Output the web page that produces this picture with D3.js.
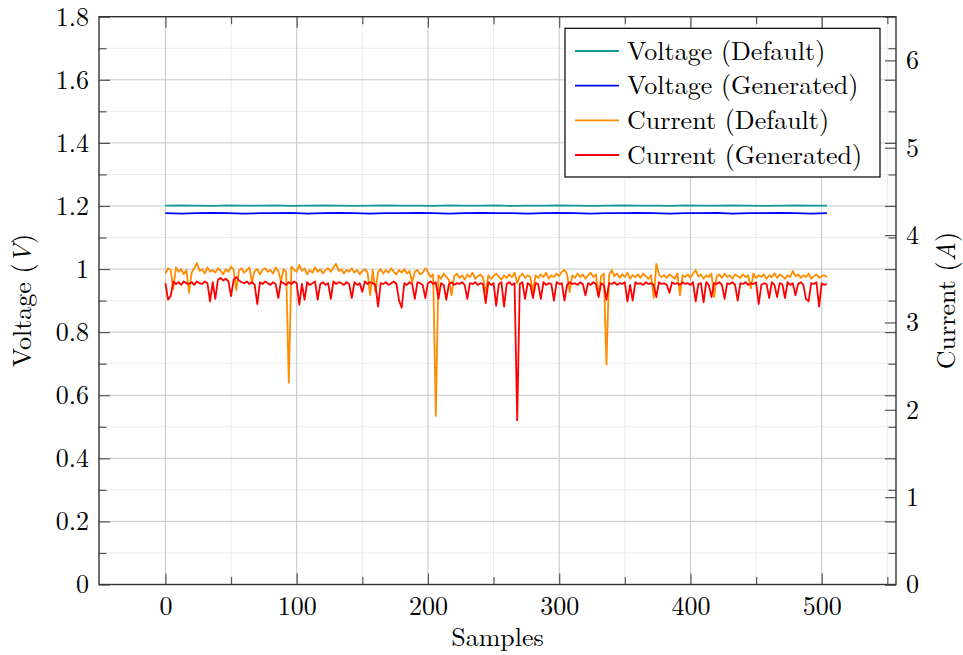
<!DOCTYPE html>
<html>
<head>
<meta charset="utf-8">
<script src="https://cdn.jsdelivr.net/npm/d3@7"></script>
<style>
  html, body { margin: 0; padding: 0; background: #fff; }
  svg { display: block; }
</style>
</head>
<body>
<svg id="chart" width="963" height="655"></svg>
<script>
// ---------------- data ----------------
const voltageStep = 12;   // samples between voltage readings
const currentStep = 2;    // samples between current readings

const voltageDefault = [1.201,1.202,1.201,1.200,1.202,1.201,1.201,1.202,1.200,1.201,
  1.202,1.201,1.200,1.201,1.202,1.201,1.201,1.200,1.202,1.201,
  1.201,1.202,1.200,1.201,1.201,1.202,1.201,1.200,1.201,1.202,
  1.201,1.201,1.200,1.202,1.201,1.201,1.202,1.201,1.200,1.201,
  1.202,1.201,1.201];
const voltageGenerated = [1.177,1.176,1.177,1.178,1.177,1.176,1.177,1.177,1.178,1.176,
  1.177,1.178,1.177,1.176,1.177,1.177,1.178,1.177,1.176,1.177,
  1.178,1.177,1.177,1.176,1.177,1.178,1.177,1.176,1.177,1.177,
  1.178,1.177,1.176,1.177,1.177,1.178,1.176,1.177,1.177,1.178,
  1.177,1.176,1.177];

const currentDefault = [
  3.56,3.62,3.60,3.38,3.63,3.58,3.61,3.55,3.60,3.34,
  3.57,3.62,3.68,3.59,3.61,3.56,3.63,3.58,3.60,3.57,
  3.62,3.59,3.55,3.61,3.58,3.64,3.60,3.37,3.59,3.62,
  3.57,3.60,3.63,3.46,3.59,3.61,3.55,3.60,3.62,3.58,
  3.60,3.56,3.63,3.59,3.47,3.61,3.58,2.31,3.64,3.60,
  3.58,3.66,3.59,3.62,3.55,3.60,3.57,3.63,3.58,3.61,
  3.56,3.60,3.62,3.58,3.63,3.67,3.59,3.61,3.56,3.60,
  3.58,3.62,3.57,3.60,3.55,3.59,3.61,3.57,3.31,3.60,
  3.35,3.58,3.61,3.56,3.60,3.57,3.62,3.58,3.55,3.60,
  3.57,3.61,3.56,3.59,3.46,3.58,3.60,3.55,3.57,3.62,
  3.58,3.52,3.55,1.93,3.54,3.50,3.56,3.52,3.49,3.31,
  3.53,3.56,3.51,3.54,3.49,3.55,3.52,3.57,3.50,3.53,
  3.55,3.51,3.34,3.54,3.50,3.53,3.56,3.52,3.49,3.54,
  3.51,3.55,3.52,3.57,3.45,3.53,3.56,3.51,3.54,3.52,
  3.35,3.54,3.51,3.55,3.52,3.57,3.50,3.54,3.52,3.56,
  3.53,3.58,3.60,3.55,3.35,3.54,3.51,3.56,3.52,3.55,
  3.50,3.54,3.57,3.52,3.55,3.31,3.53,3.56,2.52,3.54,
  3.60,3.53,3.56,3.51,3.55,3.52,3.57,3.50,3.54,3.52,
  3.55,3.51,3.56,3.53,3.50,3.54,3.28,3.67,3.55,3.52,
  3.54,3.51,3.55,3.53,3.50,3.56,3.31,3.54,3.52,3.55,
  3.51,3.56,3.60,3.53,3.55,3.50,3.54,3.52,3.56,3.29,
  3.53,3.55,3.51,3.56,3.52,3.54,3.50,3.55,3.53,3.51,
  3.55,3.52,3.54,3.39,3.56,3.51,3.54,3.52,3.55,3.50,
  3.54,3.52,3.56,3.51,3.55,3.53,3.50,3.54,3.52,3.59,
  3.53,3.55,3.51,3.54,3.52,3.56,3.50,3.53,3.55,3.51,
  3.53,3.54,3.52];

const currentGenerated = [
  3.45,3.26,3.30,3.47,3.44,3.46,3.43,3.47,3.45,3.44,
  3.46,3.43,3.47,3.45,3.44,3.47,3.45,3.24,3.46,3.27,
  3.49,3.51,3.48,3.50,3.47,3.30,3.49,3.52,3.48,3.46,
  3.45,3.47,3.44,3.46,3.43,3.21,3.46,3.44,3.47,3.45,
  3.43,3.46,3.44,3.28,3.47,3.45,3.43,3.46,3.44,3.47,
  3.45,3.20,3.44,3.26,3.46,3.43,3.45,3.47,3.26,3.44,
  3.46,3.43,3.45,3.27,3.47,3.44,3.46,3.45,3.43,3.46,
  3.44,3.28,3.46,3.43,3.45,3.35,3.47,3.44,3.46,3.45,
  3.43,3.18,3.45,3.44,3.46,3.43,3.45,3.47,3.44,3.25,
  3.17,3.45,3.43,3.46,3.44,3.27,3.46,3.45,3.43,3.28,
  3.45,3.47,3.44,3.46,3.27,3.45,3.43,3.26,3.44,3.46,
  3.43,3.45,3.44,3.46,3.43,3.27,3.45,3.44,3.46,3.43,
  3.45,3.44,3.22,3.46,3.43,3.45,3.19,3.44,3.46,3.18,
  3.44,3.46,3.43,3.45,1.88,3.44,3.46,3.27,3.45,3.43,
  3.28,3.45,3.44,3.27,3.46,3.43,3.45,3.44,3.25,3.46,
  3.44,3.45,3.25,3.43,3.46,3.44,3.45,3.43,3.46,3.44,
  3.31,3.45,3.43,3.46,3.44,3.29,3.45,3.43,3.26,3.45,
  3.44,3.46,3.43,3.45,3.44,3.46,3.24,3.43,3.25,3.46,
  3.44,3.45,3.43,3.46,3.44,3.45,3.43,3.29,3.46,3.44,
  3.45,3.43,3.34,3.46,3.44,3.45,3.43,3.46,3.44,3.45,
  3.43,3.46,3.24,3.44,3.45,3.23,3.46,3.43,3.29,3.45,
  3.44,3.46,3.43,3.27,3.45,3.44,3.46,3.43,3.25,3.45,
  3.44,3.46,3.43,3.45,3.44,3.46,3.21,3.43,3.45,3.44,
  3.28,3.46,3.43,3.29,3.45,3.44,3.28,3.46,3.43,3.45,
  3.31,3.44,3.46,3.43,3.27,3.24,3.45,3.44,3.46,3.18,
  3.45,3.43,3.44];

const xTicks = [0, 100, 200, 300, 400, 500];
const xMinorTicks = [50, 150, 250, 350, 450, 550];
const voltageTicks = [0, 0.2, 0.4, 0.6, 0.8, 1, 1.2, 1.4, 1.6, 1.8];
const voltageMinorTicks = [0.1, 0.3, 0.5, 0.7, 0.9, 1.1, 1.3, 1.5, 1.7];
const currentTicks = [0, 1, 2, 3, 4, 5, 6];
const seriesNames = ["Voltage (Default)", "Voltage (Generated)", "Current (Default)", "Current (Generated)"];
const seriesColors = ["#159a96", "#0000ff", "#ff8c00", "#ff0000"];

// ---------------- layout ----------------
const FONT = '"Latin Modern Roman", "CMU Serif", "Liberation Serif", serif';
const FS = "26px";
const L = 99, R = 896, T = 16.7, B = 584.5;
const svg = d3.select("#chart");

const x = d3.scaleLinear().domain([-50.6, 556.6]).range([L, R]);
const yV = d3.scaleLinear().domain([0, 1.8]).range([B, T]);
const yA = d3.scaleLinear().domain([0, 6.5]).range([B, T]);

// grid
const grid = svg.append("g");
grid.selectAll(".gxm").data(xMinorTicks).join("line")
  .attr("x1", d => x(d)).attr("x2", d => x(d)).attr("y1", T).attr("y2", B)
  .attr("stroke", "#ebebeb").attr("stroke-width", 1);
grid.selectAll(".gym").data(voltageMinorTicks).join("line")
  .attr("x1", L).attr("x2", R).attr("y1", d => yV(d)).attr("y2", d => yV(d))
  .attr("stroke", "#ebebeb").attr("stroke-width", 1);
grid.selectAll(".gx").data(xTicks).join("line")
  .attr("x1", d => x(d)).attr("x2", d => x(d)).attr("y1", T).attr("y2", B)
  .attr("stroke", "#c6c6c6").attr("stroke-width", 1);
grid.selectAll(".gy").data(voltageTicks).join("line")
  .attr("x1", L).attr("x2", R).attr("y1", d => yV(d)).attr("y2", d => yV(d))
  .attr("stroke", "#c6c6c6").attr("stroke-width", 1);

// series
svg.append("clipPath").attr("id", "plotclip")
  .append("rect").attr("x", L).attr("y", T).attr("width", R - L).attr("height", B - T);
const plot = svg.append("g").attr("clip-path", "url(#plotclip)");

function addLine(values, step, yScale, color) {
  const pts = values.map((v, i) => [i * step, v]);
  const line = d3.line().x(d => x(d[0])).y(d => yScale(d[1]));
  plot.append("path").datum(pts).attr("d", line)
    .attr("fill", "none").attr("stroke", color)
    .attr("stroke-width", 1.8).attr("stroke-linejoin", "round");
}
addLine(voltageDefault, voltageStep, yV, seriesColors[0]);
addLine(voltageGenerated, voltageStep, yV, seriesColors[1]);
addLine(currentDefault, currentStep, yA, seriesColors[2]);
addLine(currentGenerated, currentStep, yA, seriesColors[3]);

// axes (ticks inward)
function styleAxis(g, withLabels) {
  g.select(".domain").remove();
  g.selectAll(".tick line").attr("stroke", "#555").attr("stroke-width", 1.2);
  if (!withLabels) { g.selectAll("text").remove(); return; }
  g.selectAll("text").style("font-family", FONT).style("font-size", FS).style("fill", "#000");
}
const fmt = d => String(d);

svg.append("g").attr("transform", `translate(0,${B})`)
  .call(d3.axisBottom(x).tickValues(xTicks).tickSize(-11).tickPadding(12).tickFormat(fmt))
  .call(g => styleAxis(g, true));
svg.append("g").attr("transform", `translate(0,${B})`)
  .call(d3.axisBottom(x).tickValues(xMinorTicks).tickSize(-7.5).tickFormat(""))
  .call(g => styleAxis(g, false));
svg.append("g").attr("transform", `translate(0,${T})`)
  .call(d3.axisTop(x).tickValues(xTicks).tickSize(-11).tickFormat(""))
  .call(g => styleAxis(g, false));
svg.append("g").attr("transform", `translate(0,${T})`)
  .call(d3.axisTop(x).tickValues(xMinorTicks).tickSize(-7.5).tickFormat(""))
  .call(g => styleAxis(g, false));

svg.append("g").attr("transform", `translate(${L},0)`)
  .call(d3.axisLeft(yV).tickValues(voltageTicks).tickSize(-11).tickPadding(10).tickFormat(fmt))
  .call(g => styleAxis(g, true));
svg.append("g").attr("transform", `translate(${L},0)`)
  .call(d3.axisLeft(yV).tickValues(voltageMinorTicks).tickSize(-7.5).tickFormat(""))
  .call(g => styleAxis(g, false));
svg.append("g").attr("transform", `translate(${R},0)`)
  .call(d3.axisRight(yV).tickValues(voltageTicks).tickSize(-11).tickFormat(""))
  .call(g => styleAxis(g, false));
svg.append("g").attr("transform", `translate(${R},0)`)
  .call(d3.axisRight(yV).tickValues(voltageMinorTicks).tickSize(-7.5).tickFormat(""))
  .call(g => styleAxis(g, false));
svg.append("g").attr("transform", `translate(${R},0)`)
  .call(d3.axisRight(yA).tickValues(currentTicks).tickSize(-11).tickPadding(10).tickFormat(fmt))
  .call(g => styleAxis(g, true));

// frame
svg.append("rect").attr("x", L).attr("y", T).attr("width", R - L).attr("height", B - T)
  .attr("fill", "none").attr("stroke", "#333").attr("stroke-width", 1.4);

// axis titles
function titleText(sel) {
  return sel.style("font-family", FONT).style("font-size", FS).style("fill", "#000")
    .attr("text-anchor", "middle");
}
svg.append("text").attr("x", (L + R) / 2).attr("y", 646).call(titleText).text("Samples");

const vt = svg.append("text")
  .attr("transform", `translate(31,${(T + B) / 2}) rotate(-90)`).call(titleText);
vt.append("tspan").text("Voltage (");
vt.append("tspan").style("font-style", "italic").text("V");
vt.append("tspan").text(")");

const at = svg.append("text")
  .attr("transform", `translate(955,${(T + B) / 2}) rotate(-90)`).call(titleText);
at.append("tspan").text("Current (");
at.append("tspan").style("font-style", "italic").text("A");
at.append("tspan").text(")");

// legend
const lg = svg.append("g");
lg.append("rect").attr("x", 565).attr("y", 28.3).attr("width", 315).attr("height", 148.7)
  .attr("fill", "#fff").attr("stroke", "#000").attr("stroke-width", 1.2);
const rowY = d3.scalePoint().domain(seriesNames).range([51, 155]);
seriesNames.forEach((name, i) => {
  lg.append("line").attr("x1", 575).attr("x2", 619).attr("y1", rowY(name)).attr("y2", rowY(name))
    .attr("stroke", seriesColors[i]).attr("stroke-width", 1.8);
  lg.append("text").attr("x", 627).attr("y", rowY(name)).attr("dy", "0.33em")
    .style("font-family", FONT).style("font-size", FS).style("fill", "#000").text(name);
});
</script>
</body>
</html>
